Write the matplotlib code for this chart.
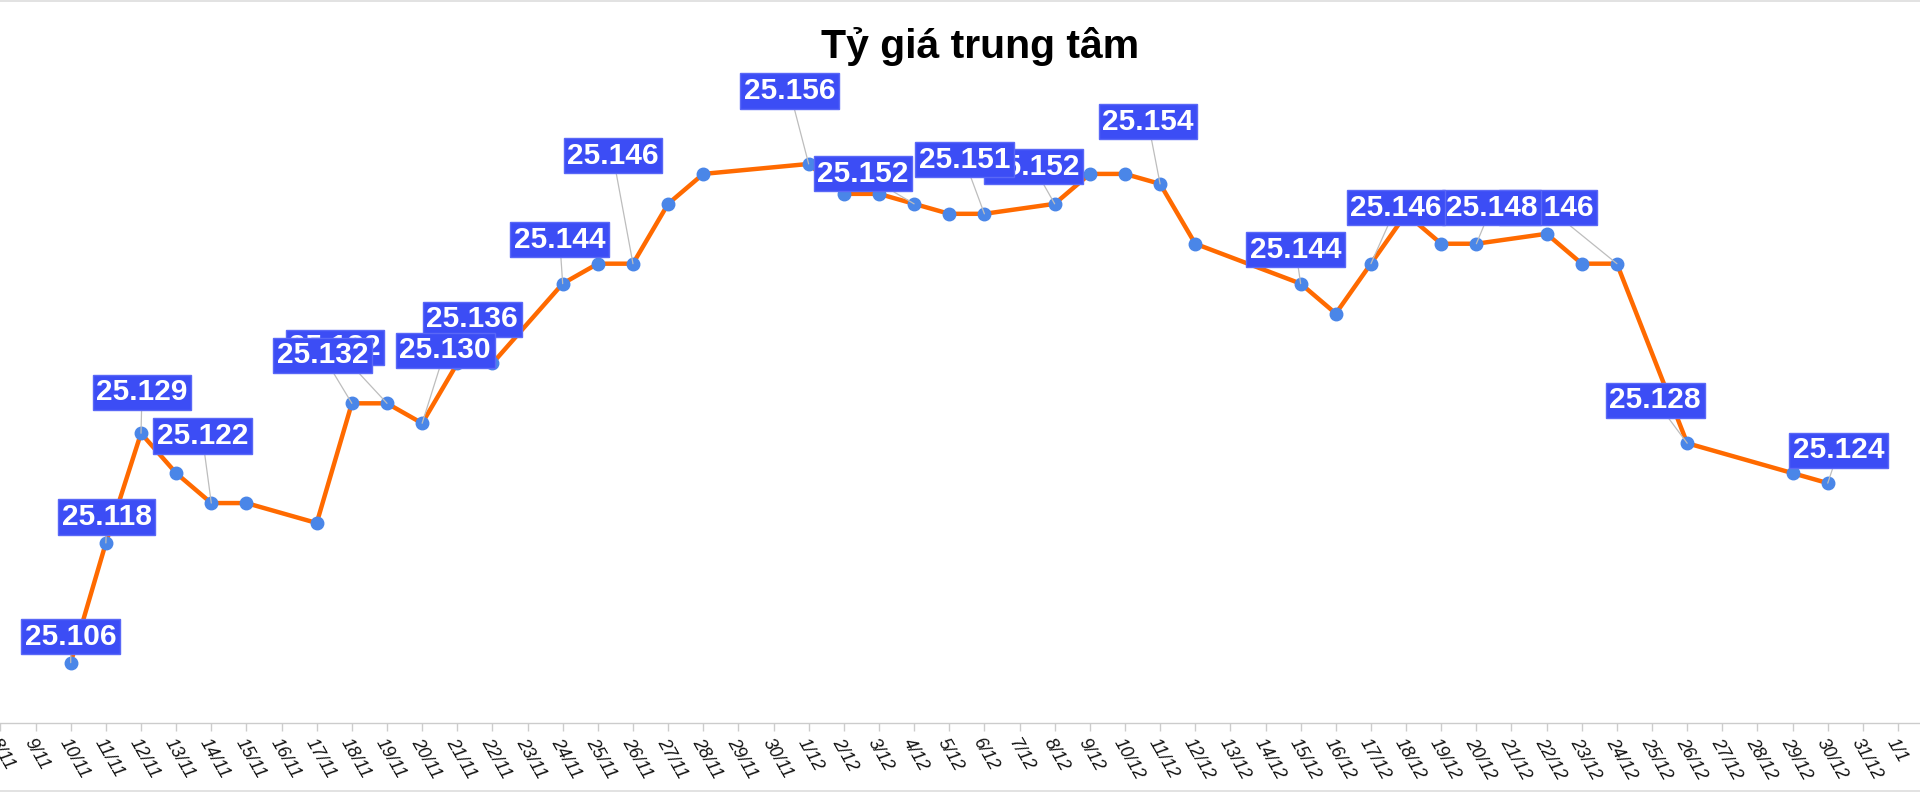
import matplotlib
matplotlib.use("Agg")
import matplotlib.pyplot as plt
import matplotlib.dates as mdates
from matplotlib.ticker import FuncFormatter
from matplotlib.lines import Line2D
import pandas as pd

plt.rcParams['font.family'] = ['Liberation Sans', 'DejaVu Sans']

# ---------------- data ----------------
title = "Tỷ giá trung tâm"
dates = ["2025-11-10", "2025-11-11", "2025-11-12", "2025-11-13", "2025-11-14",
         "2025-11-15", "2025-11-17", "2025-11-18", "2025-11-19", "2025-11-20",
         "2025-11-21", "2025-11-22", "2025-11-24", "2025-11-25", "2025-11-26",
         "2025-11-27", "2025-11-28", "2025-12-01", "2025-12-02", "2025-12-03",
         "2025-12-04", "2025-12-05", "2025-12-06", "2025-12-08", "2025-12-09",
         "2025-12-10", "2025-12-11", "2025-12-12", "2025-12-15", "2025-12-16",
         "2025-12-17", "2025-12-18", "2025-12-19", "2025-12-20", "2025-12-22",
         "2025-12-23", "2025-12-24", "2025-12-26", "2025-12-29", "2025-12-30"]
rates = [25.106, 25.118, 25.129, 25.125, 25.122,
         25.122, 25.120, 25.132, 25.132, 25.130,
         25.136, 25.136, 25.144, 25.146, 25.146,
         25.152, 25.155, 25.156, 25.153, 25.153,
         25.152, 25.151, 25.151, 25.152, 25.155,
         25.155, 25.154, 25.148, 25.144, 25.141,
         25.146, 25.151, 25.148, 25.148, 25.149,
         25.146, 25.146, 25.128, 25.125, 25.124]

# dates whose values carry a label (in drawing order, later on top)
labeled_dates = ["2025-11-10", "2025-11-11", "2025-11-12", "2025-11-14",
                 "2025-11-19", "2025-11-18", "2025-11-21", "2025-11-20",
                 "2025-11-24", "2025-11-26", "2025-12-01", "2025-12-04",
                 "2025-12-08", "2025-12-06", "2025-12-11", "2025-12-15",
                 "2025-12-24", "2025-12-20", "2025-12-17", "2025-12-26",
                 "2025-12-30"]
x_start, x_end = "2025-11-08", "2026-01-01"

# label placement (offset of label centre from its point, pixels) - layout only
label_offsets = [(0, 26), (1, 26), (1, 41), (-9, 67),
                 (-52, 56), (-29, 48), (15, 44), (23, 73),
                 (-3, 44), (-20, 108), (-19, 73), (-51, 30),
                 (-21, 37), (-20, 54), (-12, 62), (-5, 34),
                 (-69, 56), (15, 36), (25, 56), (-32, 43),
                 (11, 33)]

# ---------------- styles ----------------
LINE_C = '#ff6a00'
MARK_C = '#4a86e8'
BOX_C = '#3c4df5'
LEAD_C = '#bdbdbd'
AXIS_C = '#cccccc'

x = pd.to_datetime(dates)
series = pd.Series(rates, index=x)

fig = plt.figure(figsize=(19.2, 7.92), dpi=100)
ax = fig.add_axes([0.0, 0.08775, 1.0, 0.8186])

ax.plot(series.index, series.values, color=LINE_C, lw=3.2, zorder=2,
        solid_joinstyle='round')
ax.plot(series.index, series.values, linestyle='none', marker='o',
        markersize=9, color=MARK_C, zorder=3)

for i, d in enumerate(labeled_dates):
    dt = pd.Timestamp(d)
    v = series[dt]
    ox, oy = label_offsets[i]
    ax.annotate(f"{v:.3f}", xy=(dt, v), xytext=(ox, oy),
                textcoords='offset pixels', ha='center', va='center',
                fontsize=21.5, fontweight='bold', color='white',
                bbox=dict(boxstyle='square,pad=0.12', fc=BOX_C, ec='#5a68f7', lw=1),
                arrowprops=dict(arrowstyle='-', color=LEAD_C, lw=0.9,
                                shrinkA=0, shrinkB=0),
                zorder=5 + i, annotation_clip=False)

ax.set_ylim(25.100, 25.165)
ax.set_xlim(pd.Timestamp(x_start) - pd.Timedelta(hours=0.3),
            pd.Timestamp(x_end) + pd.Timedelta(hours=15))

ax.xaxis.set_major_locator(mdates.DayLocator(interval=1))
ax.xaxis.set_major_formatter(FuncFormatter(
    lambda val, pos: f"{mdates.num2date(val).day}/{mdates.num2date(val).month}"))

for s in ['left', 'right', 'top']:
    ax.spines[s].set_visible(False)
ax.spines['bottom'].set_color(AXIS_C)
ax.spines['bottom'].set_linewidth(1)
ax.set_yticks([])
ax.tick_params(axis='x', length=6, width=1, color=AXIS_C, labelsize=13,
               labelcolor='#111111', pad=3)
for lbl in ax.get_xticklabels():
    lbl.set_rotation(-60)
    lbl.set_ha('left')
    lbl.set_va('top')
    lbl.set_rotation_mode('anchor')
    lbl.set_fontstyle('italic')

fig.text(0.5105, 1 - 57.5 / 792, title, ha='center', va='baseline',
         fontsize=29.5, fontweight='bold', color='black')

# thin frame lines at top and bottom of the picture
fig.add_artist(Line2D([0, 1], [1 - 0.7 / 792, 1 - 0.7 / 792], transform=fig.transFigure,
                      color='#dddddd', lw=1.2))
fig.add_artist(Line2D([0, 1], [1.2 / 792, 1.2 / 792], transform=fig.transFigure,
                      color='#dddddd', lw=1.2))

fig.savefig("out.png", dpi=100, facecolor='white')
